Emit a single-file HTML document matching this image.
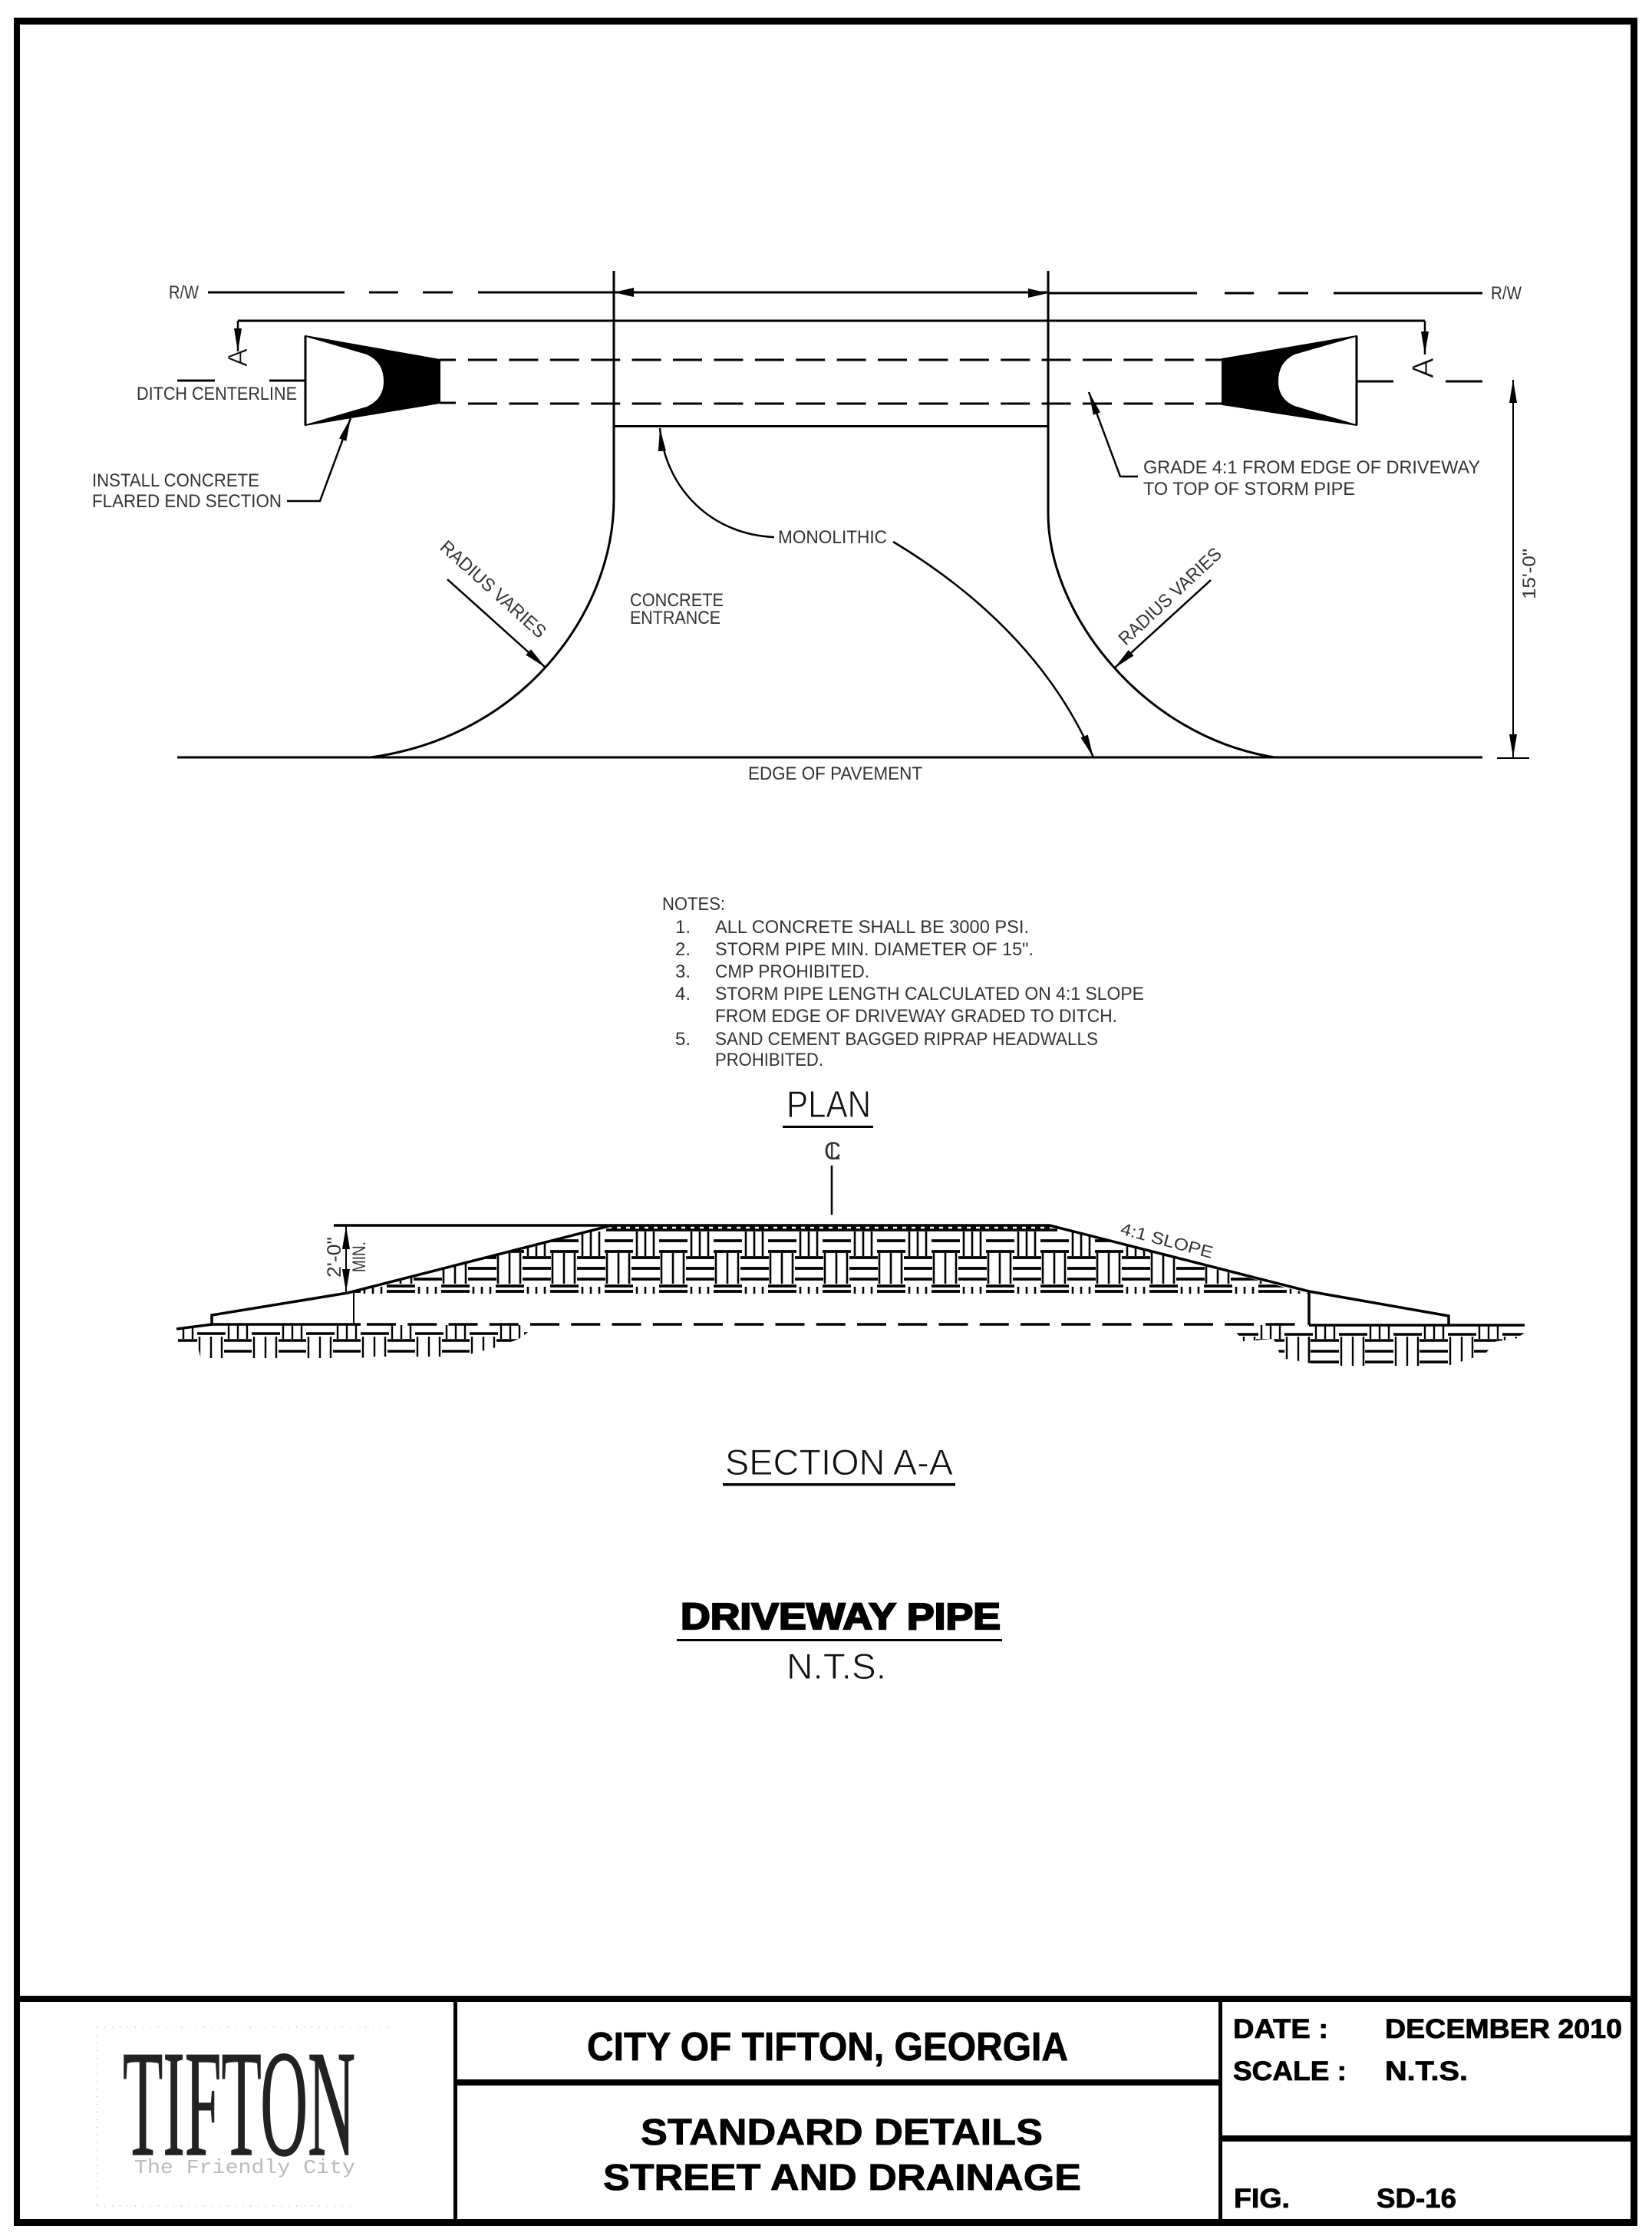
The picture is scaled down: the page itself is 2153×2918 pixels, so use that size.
<!DOCTYPE html>
<html><head><meta charset="utf-8"><title>Driveway Pipe</title>
<style>
html,body{margin:0;padding:0;background:#fff}
svg{display:block}
.t{font-family:"Liberation Sans",sans-serif;fill:#333;font-size:24px}
.th{font-family:"Liberation Sans",sans-serif;fill:#111;stroke:#fff;stroke-width:.9px;font-size:47px}
.b{font-family:"Liberation Sans",sans-serif;font-weight:bold;fill:#000;stroke:#000;stroke-width:.8px}
</style></head><body>
<svg xmlns="http://www.w3.org/2000/svg" width="2153" height="2918" viewBox="0 0 2153 2918">
<defs>
<marker id="a" markerUnits="userSpaceOnUse" markerWidth="32" markerHeight="16" refX="30" refY="8" orient="auto"><path d="M0 3 L30 8 L0 13z"/></marker>
<pattern id="w" patternUnits="userSpaceOnUse" x="788" y="1597" width="71" height="100">
<g stroke="#000" stroke-width="3.8" fill="none">
<path d="M0 20H37M0 34H37M35 42H71M0 42H1M35 56H71M0 56H1M35 70H71M0 70H1M0 79H37M0 86H37"/>
<path stroke-width="2.6" d="M42 8V40M53 8V40M64 8V40M3 36V76M18 36V76M32 36V76M42 80V90M53 80V90M64 80V90"/>
</g></pattern>
<pattern id="g1" patternUnits="userSpaceOnUse" x="257" y="1726" width="71" height="60">
<g stroke="#000" stroke-width="3.5" fill="none">
<path d="M0 12H37M35 21H71M35 35H71"/>
<path stroke-width="2.4" d="M41 1V19M53 1V19M65 1V19M3 16V44M18 16V44M32 16V44"/>
</g></pattern>
<pattern id="g2" patternUnits="userSpaceOnUse" x="1674" y="1726" width="71" height="60">
<g stroke="#000" stroke-width="3.5" fill="none">
<path d="M0 13H37M34 21H71M34 35H71M34 49H71"/>
<path stroke-width="2.4" d="M41 1V19M53 1V19M65 1V19M3 16V54M18 16V54M32 16V54"/>
</g></pattern>
</defs>
<rect width="2153" height="2918" fill="#fff"/>

<!-- frame -->
<g fill="#000">
<rect x="18" y="23" width="2116" height="9"/>
<rect x="18" y="23" width="8" height="2878"/>
<rect x="2125" y="23" width="9" height="2878"/>
<rect x="18" y="2892" width="2116" height="9"/>
<rect x="18" y="2601" width="2116" height="8"/>
<rect x="591" y="2601" width="5" height="295"/>
<rect x="1588" y="2601" width="5" height="295"/>
<rect x="593" y="2710" width="995" height="8"/>
<rect x="1590" y="2783" width="540" height="8"/>
</g>

<!-- PLAN -->
<g fill="none" stroke="#000" stroke-width="3">
<path d="M271 381H449M481 381H519M551 381H590M623 381H1366"/>
<path d="M1366 382H1560M1596 382H1634M1666 382H1705M1738 382H1932"/>
<path d="M310 418H1857"/>
<path d="M231 496H280M351 496H398M1768 497H1816M1884 497H1932"/>
<path d="M573 469H594M573 525H594M1571 469H1593M1571 526H1593"/>
<path stroke-dasharray="38 15.4" d="M610 469H1571M610 526H1571"/>
<path d="M800 353V650C800 800 680 960 483 987"/>
<path d="M1366 353V669C1366 800 1490 960 1661 987"/>
<path d="M800 555.5H1366"/>
<path d="M231 987H1932"/>
<path stroke-width="2" d="M1951 988H1993"/>
</g>
<g fill="#000">
<path d="M800 381L826 375V387z"/>
<path d="M1366 382L1340 376V388z"/>
</g>
<g fill="none" stroke="#000" stroke-width="2.5">
<path d="M310 418V458" marker-end="url(#a)"/>
<path d="M1857 418V462" marker-end="url(#a)"/>
<path d="M374 653H417L457 545" marker-end="url(#a)"/>
<path d="M1483 621H1460L1419 511" marker-end="url(#a)"/>
<path d="M1009 700C930 697 868 640 860 558" marker-end="url(#a)"/>
<path d="M1164 706C1270 770 1370 860 1425 987" marker-end="url(#a)"/>
<path d="M583 755L711 870" marker-end="url(#a)"/>
<path d="M1578 756L1452 871" marker-end="url(#a)"/>
<path stroke-width="2" d="M1972 535V987" marker-end="url(#a)"/>
<path stroke-width="2" d="M1972 987V495" marker-end="url(#a)"/>
</g>

<!-- flared ends -->
<path d="M398 438L573 469V525L398 554z" fill="#000" stroke="#000" stroke-width="2"/>
<path d="M399 439L478 462Q500 472 500 497Q500 520 478 530L399 553z" fill="#fff"/>
<path d="M398 438V554" stroke="#000" stroke-width="3" fill="none"/>
<path d="M1768 438L1593 468V527L1768 554z" fill="#000" stroke="#000" stroke-width="2"/>
<path d="M1767 439L1687 462Q1666 472 1666 497Q1666 520 1687 529L1767 553z" fill="#fff"/>
<path d="M1768 438V554" stroke="#000" stroke-width="3" fill="none"/>

<!-- plan labels -->
<text class="t" x="220" y="389" textLength="39" lengthAdjust="spacingAndGlyphs">R/W</text>
<text class="t" x="1943" y="390" textLength="40" lengthAdjust="spacingAndGlyphs">R/W</text>
<text class="t" x="178" y="521" textLength="209" lengthAdjust="spacingAndGlyphs">DITCH CENTERLINE</text>
<text class="t" x="120" y="634" textLength="218" lengthAdjust="spacingAndGlyphs">INSTALL CONCRETE</text>
<text class="t" x="120" y="661" textLength="247" lengthAdjust="spacingAndGlyphs">FLARED END SECTION</text>
<text class="t" x="821" y="790" textLength="122" lengthAdjust="spacingAndGlyphs">CONCRETE</text>
<text class="t" x="821" y="813" textLength="118" lengthAdjust="spacingAndGlyphs">ENTRANCE</text>
<text class="t" x="1014" y="708" textLength="142" lengthAdjust="spacingAndGlyphs">MONOLITHIC</text>
<text class="t" x="975" y="1016" textLength="227" lengthAdjust="spacingAndGlyphs">EDGE OF PAVEMENT</text>
<text class="t" x="1490" y="617" textLength="439" lengthAdjust="spacingAndGlyphs">GRADE 4:1 FROM EDGE OF DRIVEWAY</text>
<text class="t" x="1490" y="645" textLength="276" lengthAdjust="spacingAndGlyphs">TO TOP OF STORM PIPE</text>
<text class="t" transform="translate(572 715) rotate(42)" textLength="176" lengthAdjust="spacingAndGlyphs">RADIUS VARIES</text>
<text class="t" transform="translate(1467 842) rotate(-43)" textLength="173" lengthAdjust="spacingAndGlyphs">RADIUS VARIES</text>
<text class="t" transform="translate(2001 781) rotate(-90)" textLength="66" lengthAdjust="spacingAndGlyphs">15'-0"</text>
<text class="th" style="font-size:36px;stroke-width:.7px" transform="translate(322 478) rotate(-90)">A</text>
<text class="th" style="font-size:40px;stroke-width:.7px" transform="translate(1868 493) rotate(-90)">A</text>

<!-- notes -->
<text class="t" x="863" y="1186" textLength="82" lengthAdjust="spacingAndGlyphs">NOTES:</text>
<text class="t" x="880" y="1216">1.</text>
<text class="t" x="932" y="1216" textLength="409" lengthAdjust="spacingAndGlyphs">ALL CONCRETE SHALL BE 3000 PSI.</text>
<text class="t" x="880" y="1245">2.</text>
<text class="t" x="932" y="1245" textLength="415" lengthAdjust="spacingAndGlyphs">STORM PIPE MIN. DIAMETER OF 15".</text>
<text class="t" x="880" y="1274">3.</text>
<text class="t" x="932" y="1274" textLength="201" lengthAdjust="spacingAndGlyphs">CMP PROHIBITED.</text>
<text class="t" x="880" y="1303">4.</text>
<text class="t" x="932" y="1303" textLength="559" lengthAdjust="spacingAndGlyphs">STORM PIPE LENGTH CALCULATED ON 4:1 SLOPE</text>
<text class="t" x="932" y="1332" textLength="524" lengthAdjust="spacingAndGlyphs">FROM EDGE OF DRIVEWAY GRADED TO DITCH.</text>
<text class="t" x="880" y="1362">5.</text>
<text class="t" x="932" y="1362" textLength="499" lengthAdjust="spacingAndGlyphs">SAND CEMENT BAGGED RIPRAP HEADWALLS</text>
<text class="t" x="932" y="1389" textLength="141" lengthAdjust="spacingAndGlyphs">PROHIBITED.</text>

<text class="th" x="1025" y="1456" style="font-size:49px" textLength="110" lengthAdjust="spacingAndGlyphs">PLAN</text>
<rect x="1020" y="1467" width="118" height="3" fill="#000"/>
<text class="t" x="1074" y="1511" style="font-size:32px" textLength="22" lengthAdjust="spacingAndGlyphs">C</text>
<text class="t" x="1081" y="1511" style="font-size:32px" textLength="14" lengthAdjust="spacingAndGlyphs">L</text>
<path d="M1084 1519V1583" stroke="#000" stroke-width="2.5"/>

<!-- section A-A -->
<polygon points="453,1686 797,1597 1368,1597 1706,1686" fill="url(#w)"/>
<polygon points="232,1732 276,1726 690,1726 690,1735 676,1745 650,1755 600,1768 480,1768 460,1772 262,1772 258,1755 232,1750" fill="url(#g1)"/>
<polygon points="1640,1727 1990,1727 1990,1735 1975,1745 1950,1748 1935,1765 1880,1782 1720,1782 1706,1776 1670,1770 1660,1745 1620,1748 1610,1735" fill="url(#g2)"/>
<g fill="none" stroke="#000" stroke-width="3.5">
<path d="M435 1597H1368L1706 1683L1888 1715V1727"/>
<path d="M790 1603H1378"/>
<path stroke-width="3" stroke-dasharray="7 5" d="M797 1600H1368"/>
<path d="M797 1597L453 1685L276 1714V1726H470"/>
<path d="M230 1732L276 1726"/>
<path d="M1706 1683V1727M1706 1727H1987"/>
<path stroke-dasharray="38 15.25" d="M478 1726H1688"/>
<path stroke-width="2" d="M461 1685V1726"/>
<path stroke-width="2.5" d="M1706 1743V1775H1730"/>
</g>
<g fill="none" stroke="#000" stroke-width="2">
<path d="M451 1660V1598" marker-end="url(#a)"/>
<path d="M451 1620V1684" marker-end="url(#a)"/>
</g>
<text class="t" style="font-size:25px" transform="translate(444 1665) rotate(-90)" textLength="53" lengthAdjust="spacingAndGlyphs">2'-0"</text>
<text class="t" style="font-size:24px" transform="translate(476 1658) rotate(-90)" textLength="40" lengthAdjust="spacingAndGlyphs">MIN.</text>
<text class="t" style="font-size:22px" transform="translate(1459 1608) rotate(15)" textLength="124" lengthAdjust="spacingAndGlyphs">4:1 SLOPE</text>

<text class="th" x="945" y="1922" textLength="297" lengthAdjust="spacingAndGlyphs">SECTION A-A</text>
<rect x="942" y="1933" width="303" height="3.5" fill="#000"/>
<text class="b" x="887" y="2123" style="font-size:48px;stroke-width:2.2px" textLength="417" lengthAdjust="spacingAndGlyphs">DRIVEWAY PIPE</text>
<rect x="882" y="2136" width="424" height="3" fill="#000"/>
<text class="th" x="1025" y="2188" textLength="130" lengthAdjust="spacingAndGlyphs">N.T.S.</text>

<!-- title block -->
<g fill="none" stroke="#aaa" stroke-width="1" stroke-dasharray="1 9">
<path d="M126 2642H509M126 2875H460M126 2642V2875"/>
</g>
<text x="160" y="2808" style="font-family:'Liberation Serif',serif;font-size:198px;fill:#222;stroke:#222;stroke-width:1.5px" textLength="303" lengthAdjust="spacingAndGlyphs">TIFTON</text>
<text x="175" y="2832" style="font-family:'Liberation Mono',monospace;font-size:26px;fill:#bbb" textLength="288" lengthAdjust="spacingAndGlyphs">The Friendly City</text>

<text class="b" x="765" y="2685" style="font-size:52px" textLength="627" lengthAdjust="spacingAndGlyphs">CITY OF TIFTON, GEORGIA</text>
<text class="b" x="835" y="2795" style="font-size:48px" textLength="524" lengthAdjust="spacingAndGlyphs">STANDARD DETAILS</text>
<text class="b" x="786" y="2854" style="font-size:48px" textLength="623" lengthAdjust="spacingAndGlyphs">STREET AND DRAINAGE</text>
<text class="b" x="1607" y="2656" style="font-size:35px" textLength="124" lengthAdjust="spacingAndGlyphs">DATE :</text>
<text class="b" x="1805" y="2656" style="font-size:35px" textLength="309" lengthAdjust="spacingAndGlyphs">DECEMBER 2010</text>
<text class="b" x="1607" y="2711" style="font-size:35px" textLength="148" lengthAdjust="spacingAndGlyphs">SCALE :</text>
<text class="b" x="1805" y="2711" style="font-size:35px" textLength="108" lengthAdjust="spacingAndGlyphs">N.T.S.</text>
<text class="b" x="1608" y="2877" style="font-size:35px" textLength="73" lengthAdjust="spacingAndGlyphs">FIG.</text>
<text class="b" x="1794" y="2877" style="font-size:35px" textLength="104" lengthAdjust="spacingAndGlyphs">SD-16</text>
</svg>
</body></html>
